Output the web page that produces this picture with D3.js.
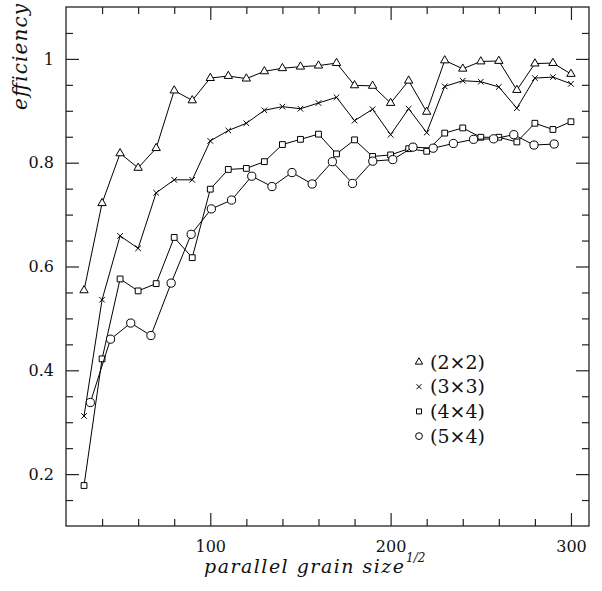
<!DOCTYPE html>
<html>
<head>
<meta charset="utf-8">
<script src="https://cdn.jsdelivr.net/npm/d3@7"></script>
<style>
  body { margin: 0; background: #fff; }
  svg { display: block; }
  svg text { font-family: "DejaVu Serif", serif; fill: #111; }
  .tick text { font-size: 16px; }
  .axis path { display: none; }
  .axis line { stroke: #222; stroke-width: 1.2; }
</style>
</head>
<body>
<svg id="chart"></svg>
<script>
// grain sizes used by the 2x2, 3x3 and 4x4 runs
const gridX = [30, 40, 50, 60, 70, 80, 90, 100, 110, 120, 130, 140, 150, 160,
  170, 180, 190, 200, 210, 220, 230, 240, 250, 260, 270, 280, 290, 300];

const eff2x2 = [0.554, 0.722, 0.818, 0.790, 0.828, 0.939, 0.920, 0.963, 0.967, 0.962,
  0.976, 0.982, 0.985, 0.987, 0.992, 0.949, 0.948, 0.915, 0.958, 0.898,
  0.997, 0.981, 0.995, 0.996, 0.940, 0.991, 0.992, 0.971];

const eff3x3 = [0.312, 0.536, 0.659, 0.635, 0.742, 0.767, 0.767, 0.842, 0.862, 0.876,
  0.901, 0.908, 0.904, 0.915, 0.926, 0.881, 0.903, 0.854, 0.904, 0.858,
  0.947, 0.958, 0.956, 0.946, 0.905, 0.963, 0.965, 0.952];

const eff4x4 = [0.178, 0.422, 0.576, 0.553, 0.567, 0.656, 0.617, 0.749, 0.787, 0.789,
  0.802, 0.835, 0.845, 0.855, 0.817, 0.844, 0.812, 0.815, 0.827, 0.822,
  0.857, 0.867, 0.849, 0.849, 0.840, 0.876, 0.864, 0.879];

// the 5x4 runs sit on their own grain sizes
const grid5x4 = [33.5, 44.7, 55.9, 67.1, 78.3, 89.4, 100.6, 111.8, 123.0, 134.2, 145.3, 156.5,
  167.7, 178.9, 190.1, 201.2, 212.4, 223.6, 234.8, 246.0, 257.1, 268.3, 279.5, 290.7];
const eff5x4 = [0.338, 0.460, 0.491, 0.467, 0.568, 0.662, 0.711, 0.728, 0.774, 0.754, 0.781, 0.759,
  0.802, 0.760, 0.803, 0.806, 0.830, 0.828, 0.837, 0.845, 0.846, 0.854, 0.834, 0.836];

const seriesNames = ['(2\u00d72)', '(3\u00d73)', '(4\u00d74)', '(5\u00d74)'];
const xMajor = [100, 200, 300];
const xMinor = [40, 60, 80, 120, 140, 160, 180, 220, 240, 260, 280];
const yMajor = [0.2, 0.4, 0.6, 0.8, 1.0];
const yMinor = [0.15, 0.25, 0.3, 0.35, 0.45, 0.5, 0.55, 0.65, 0.7, 0.75, 0.85, 0.9, 0.95, 1.05];

const width = 602, height = 591;
const m = { left: 66, right: 589, top: 7, bottom: 526 };

const svg = d3.select('#chart').attr('width', width).attr('height', height);

const x = d3.scaleLinear().domain([20, 310]).range([m.left, m.right]);
const y = d3.scaleLinear().domain([0.1, 1.1]).range([m.bottom, m.top]);

// ticks on all four sides, pointing inward
function tickAxis(axisFn, scale, values, size, pos, labels) {
  const a = axisFn(scale).tickValues(values).tickSize(-size)
    .tickFormat(labels ? d3.format('~g') : '');
  return svg.append('g').attr('class', 'axis').attr('transform', pos).call(a);
}
tickAxis(d3.axisBottom, x, xMinor, 7, `translate(0,${m.bottom})`, false);
tickAxis(d3.axisBottom, x, xMajor, 13, `translate(0,${m.bottom})`, true)
  .call(g => g.selectAll('text').attr('y', 15));
tickAxis(d3.axisTop, x, xMinor, 7, `translate(0,${m.top})`, false);
tickAxis(d3.axisTop, x, xMajor, 13, `translate(0,${m.top})`, false);
tickAxis(d3.axisLeft, y, yMinor, 7, `translate(${m.left},0)`, false);
tickAxis(d3.axisLeft, y, yMajor, 13, `translate(${m.left},0)`, true)
  .call(g => g.selectAll('text').attr('x', -12));
tickAxis(d3.axisRight, y, yMinor, 7, `translate(${m.right},0)`, false);
tickAxis(d3.axisRight, y, yMajor, 13, `translate(${m.right},0)`, false);

svg.append('rect')
  .attr('x', m.left).attr('y', m.top)
  .attr('width', m.right - m.left).attr('height', m.bottom - m.top)
  .attr('fill', 'none').attr('stroke', '#222').attr('stroke-width', 1.3);

// axis titles
svg.append('text')
  .attr('x', 204).attr('y', 573)
  .attr('font-style', 'italic').attr('font-size', 19)
  .attr('textLength', 200).attr('lengthAdjust', 'spacing')
  .text('parallel grain size');
svg.append('text')
  .attr('x', 406).attr('y', 562)
  .attr('font-style', 'italic').attr('font-size', 12)
  .text('1/2');
svg.append('text')
  .attr('transform', 'translate(27,4) rotate(-90)')
  .attr('text-anchor', 'end')
  .attr('font-style', 'italic').attr('font-size', 20)
  .attr('textLength', 106).attr('lengthAdjust', 'spacing')
  .text('efficiency');

// marker shapes
const sym = {
  tri: d3.symbol().type(d3.symbolTriangle),
  sq: d3.symbol().type(d3.symbolSquare),
  circ: d3.symbol().type(d3.symbolCircle)
};
function drawMarker(g, kind, cx, cy, s) {
  if (kind === 'cross') {
    g.append('path')
      .attr('d', `M${cx - s},${cy - s}L${cx + s},${cy + s}M${cx - s},${cy + s}L${cx + s},${cy - s}`)
      .attr('stroke', '#000').attr('stroke-width', 1).attr('fill', 'none');
    return;
  }
  g.append('path')
    .attr('d', sym[kind].size(kind === 'circ' ? Math.PI * s * s : kind === 'sq' ? 4 * s * s : s * s * 2.6)())
    .attr('transform', `translate(${cx},${cy})`)
    .attr('fill', '#fff').attr('stroke', '#000').attr('stroke-width', 1);
}

const series = [
  { xs: gridX, ys: eff2x2, kind: 'tri', s: 3.4 },
  { xs: gridX, ys: eff3x3, kind: 'cross', s: 2.8 },
  { xs: gridX, ys: eff4x4, kind: 'sq', s: 2.9 },
  { xs: grid5x4, ys: eff5x4, kind: 'circ', s: 4.1 }
];

const line = d3.line().x(d => x(d[0])).y(d => y(d[1]));

series.forEach(sr => {
  const pts = sr.xs.map((v, i) => [v, sr.ys[i]]);
  svg.append('path')
    .attr('d', line(pts))
    .attr('fill', 'none').attr('stroke', '#000').attr('stroke-width', 1);
  const g = svg.append('g');
  pts.forEach(p => drawMarker(g, sr.kind, x(p[0]), y(p[1]), sr.s));
});

// legend
const legend = svg.append('g').attr('id', 'legend');
series.forEach((sr, i) => {
  const ly = 362 + i * 24.7;
  drawMarker(legend, sr.kind, 419, ly, sr.kind === 'circ' ? 3.4 : sr.kind === 'tri' ? 3 : 2.5);
  legend.append('text')
    .attr('x', 430).attr('y', ly + 6.5)
    .attr('font-size', 19)
    .text(seriesNames[i]);
});
</script>
</body>
</html>
